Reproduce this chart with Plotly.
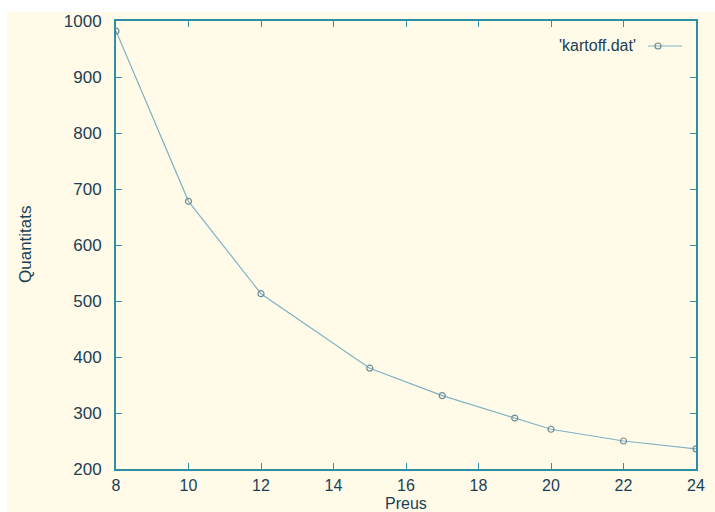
import plotly.graph_objects as go

preus = [8, 10, 12, 15, 17, 19, 20, 22, 24]
quantitats = [982, 678, 513, 380, 331, 291, 271, 250, 236]
series_name = "'kartoff.dat'"
x_title = "Preus"
y_title = "Quantitats"

cream = "#fffbe8"
axis_col = "#2f8ea3"
text_col = "#1a3f55"
line_col = "#7fb3c6"
marker_col = "#6f8a94"

W, H = 715, 512
L, R, T, B = 116, 19, 21, 43
pw, ph = W - L - R, H - T - B

def px_x(p):
    return (p - L) / pw

def px_y(p):
    return 1 - (p - T) / ph

fig = go.Figure()
fig.add_trace(go.Scatter(
    x=preus, y=quantitats, mode="lines+markers", name=series_name,
    line=dict(color=line_col, width=1.2),
    marker=dict(symbol="circle-open", size=6, color=marker_col, line=dict(width=1.2)),
    showlegend=False,
))

# gnuplot-style key: text on the left, sample on the right
key_y = 46
fig.add_annotation(xref="paper", yref="paper", x=px_x(638), y=px_y(key_y),
                   xanchor="right", yanchor="middle", showarrow=False,
                   text=series_name, font=dict(size=16, color=text_col))
# axis titles
fig.add_annotation(xref="paper", yref="paper", x=px_x(406), y=px_y(513),
                   xanchor="center", yanchor="bottom", showarrow=False,
                   borderpad=0,
                   text=x_title, font=dict(size=16, color=text_col))
fig.add_annotation(xref="paper", yref="paper", x=px_x(25), y=px_y(244),
                   xanchor="center", yanchor="middle", showarrow=False, textangle=-90,
                   text=y_title, font=dict(size=17, color=text_col))

fig.update_layout(
    width=W, height=H,
    margin=dict(l=L, r=R, t=T, b=B, autoexpand=False),
    paper_bgcolor="white",
    plot_bgcolor=cream,
    font=dict(family="Liberation Sans, Arial, sans-serif", size=16, color=text_col),
    showlegend=False,
    shapes=[
        dict(type="rect", xref="paper", yref="paper",
             x0=px_x(7), x1=px_x(W + 5), y0=px_y(H + 5), y1=px_y(12),
             fillcolor=cream, line=dict(width=0), layer="below"),
        dict(type="line", xref="paper", yref="paper",
             x0=px_x(648), x1=px_x(682), y0=px_y(key_y), y1=px_y(key_y),
             line=dict(color=line_col, width=1.2)),
        dict(type="circle", xref="paper", yref="paper",
             x0=px_x(655), x1=px_x(661), y0=px_y(key_y + 3), y1=px_y(key_y - 3),
             line=dict(color=marker_col, width=1.2), fillcolor="rgba(0,0,0,0)"),
    ],
)

fig.update_xaxes(range=[8, 24], tickvals=list(range(8, 25, 2)),
                 showgrid=False, zeroline=False, automargin=False,
                 showline=True, linecolor=axis_col, linewidth=2, mirror="ticks",
                 ticks="inside", ticklen=6, tickcolor=axis_col, tickwidth=1.2,
                 ticklabelstandoff=1, tickfont=dict(size=16))
fig.update_yaxes(range=[200, 1000], tickvals=list(range(200, 1001, 100)),
                 showgrid=False, zeroline=False, automargin=False,
                 showline=True, linecolor=axis_col, linewidth=2, mirror="ticks",
                 ticks="inside", ticklen=6, tickcolor=axis_col, tickwidth=1.2,
                 ticklabelstandoff=9, tickfont=dict(size=17))

fig.write_html("out.html")
